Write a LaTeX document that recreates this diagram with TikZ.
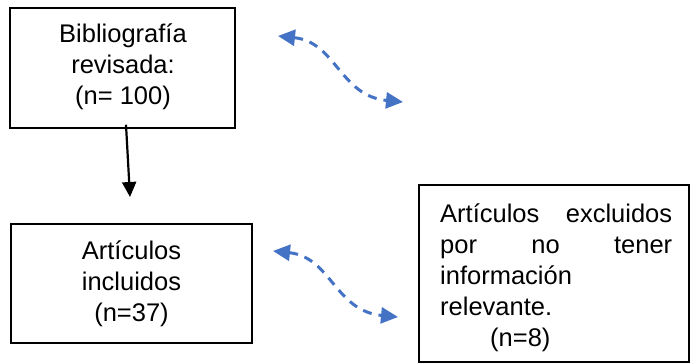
\documentclass[tikz,border=0pt]{standalone}
\usepackage{fontspec}
\setmainfont{Liberation Sans}
\usetikzlibrary{arrows.meta,calc}
\definecolor{dblue}{RGB}{68,114,196}
\begin{document}
\begin{tikzpicture}[x=1pt,y=-1pt,
  box/.style={draw=black,line width=1.5pt,inner sep=0pt},
  txt/.style={inner sep=0pt,font=\fontsize{25.5}{31}\selectfont},
  flow/.style={-{Triangle[length=15pt,width=14pt]},line width=2.2pt},
  link/.style={{Triangle[length=17pt,width=16pt]}-{Triangle[length=17pt,width=16pt]},draw=dblue,line width=3pt,dash pattern=on 9pt off 7pt}]
\useasboundingbox (0,0) rectangle (690,363);
% boxes
\node[box,minimum width=225pt,minimum height=120pt] (b1) at (122.5,68) {};
\node[box,minimum width=241pt,minimum height=119pt] (b2) at (131.5,283.5) {};
\node[box,minimum width=270pt,minimum height=177pt] (b3) at (554,273.5) {};
% texts (anchor base = baseline of last line)
\node[txt,align=center,anchor=base] (t1) at (123,105) {Bibliografía\\revisada:\\(n= 100)};
\node[txt,align=center,anchor=base] (t2) at (131.5,321) {Artículos\\incluidos\\(n=37)};
\node[txt,align=left,anchor=base west] (t3) at (440,346) {\makebox[232pt][s]{Artículos excluidos}\\\makebox[232pt][s]{por no tener}\\información\\relevante.\\\hspace*{50pt}(n=8)};
% black arrow
\coordinate (e1) at (130,197);
\draw[flow] ([xshift=3.5pt,yshift=4pt]b1.south) -- (e1);
% dashed double arrows
\coordinate (l1a) at (278,36);
\coordinate (l1b) at (403,102);
\draw[link] (l1a) .. controls ($(l1a)+(58,6)$) and ($(l1a)+(62,60)$) .. (l1b);
\coordinate (l2a) at (273,251);
\coordinate (l2b) at (398,317);
\draw[link] (l2a) .. controls ($(l2a)+(58,6)$) and ($(l2a)+(62,60)$) .. (l2b);
\end{tikzpicture}
\end{document}
